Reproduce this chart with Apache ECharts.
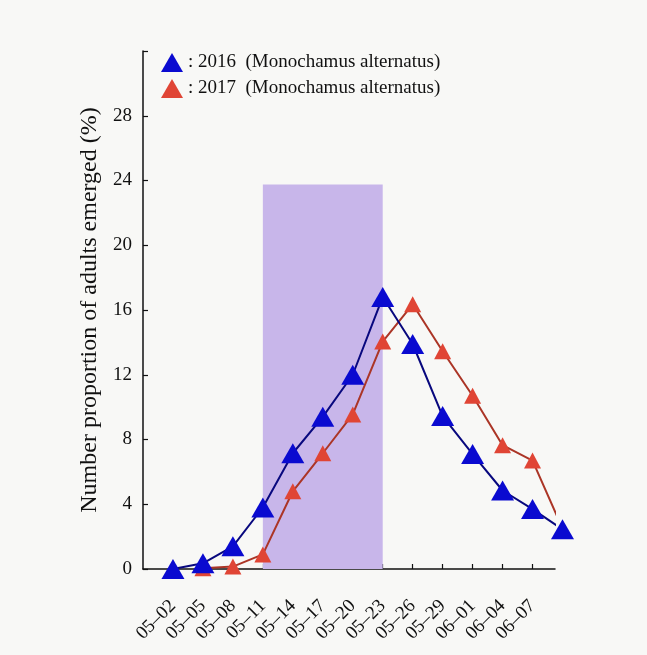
<!DOCTYPE html>
<html>
<head>
<meta charset="utf-8">
<script src="https://cdn.jsdelivr.net/npm/echarts@6/dist/echarts.min.js"></script>
<style>
html,body{margin:0;padding:0;background:#f8f8f6;}
#c{width:647px;height:655px;}
</style>
</head>
<body>
<div id="c"></div>
<script>
// Dates (3-day intervals); the last one has no printed label
const categories = ['05–02','05–05','05–08','05–11','05–14','05–17','05–20','05–23','05–26','05–29','06–01','06–04','06–07','06–10'];
const labelCount = 13;
// Number proportion of adults emerged (%)
const values2016 = [0, 0.35, 1.4, 3.8, 7.15, 9.4, 12.0, 16.8, 13.9, 9.45, 7.1, 4.85, 3.7, 2.45];
const values2017 = [null, 0.05, 0.15, 0.9, 4.8, 7.15, 9.55, 14.05, 16.35, 13.45, 10.7, 7.65, 6.7, 2.5];
const yTicks = [0, 4, 8, 12, 16, 20, 24, 28, 32];
// Shaded period: 05-11 to 05-23, up to ~23.75 %
const shadeFrom = 3, shadeTo = 7, shadeTop = 23.75;
const seriesNames = ['2016', '2017'];

const toPairs = arr => arr.map((v, i) => [i, v]).filter(p => p[1] !== null);
const labelIdx = categories.slice(0, labelCount).map((c, i) => i);

const chart = echarts.init(document.getElementById('c'));
const serif = '"Liberation Serif", "DejaVu Serif", serif';
chart.setOption({
  backgroundColor: '#f8f8f6',
  animation: false,
  grid: { left: 143, right: 92, top: 51, bottom: 86, containLabel: false },
  legend: {
    orient: 'vertical',
    left: 156,
    top: 48,
    itemWidth: 22,
    itemHeight: 19,
    itemGap: 7,
    icon: 'triangle',
    textStyle: { fontFamily: serif, fontSize: 19, color: '#111' },
    formatter: n => ': ' + n + '  (Monochamus alternatus)',
    data: seriesNames
  },
  xAxis: {
    type: 'value',
    min: -1,
    max: 12.75,
    interval: 1,
    splitLine: { show: false },
    axisLine: { onZero: false, lineStyle: { color: '#111', width: 1.5 } },
    axisTick: { inside: true, length: 5, customValues: labelIdx, lineStyle: { color: '#111', width: 1.2 } },
    axisLabel: {
      customValues: labelIdx,
      rotate: 45,
      margin: 34,
      fontFamily: serif,
      fontSize: 19,
      color: '#111',
      formatter: v => categories[Math.round(v)] || ''
    }
  },
  yAxis: {
    type: 'value',
    min: 0,
    max: 32,
    interval: 4,
    splitLine: { show: false },
    axisLine: { show: true, onZero: false, lineStyle: { color: '#111', width: 1.5 } },
    axisTick: { show: true, inside: true, length: 5, lineStyle: { color: '#111', width: 1.2 } },
    axisLabel: {
      margin: 11,
      fontFamily: serif,
      fontSize: 19,
      color: '#111',
      formatter: v => (v === 32 ? '' : String(v))
    },
    name: 'Number proportion of adults emerged (%)',
    nameLocation: 'middle',
    nameGap: 33,
    nameTextStyle: { fontFamily: serif, fontSize: 24, color: '#111' }
  },
  series: [
    {
      name: seriesNames[0],
      type: 'line',
      clip: false,
      z: 3,
      data: toPairs(values2016),
      symbol: 'triangle',
      symbolSize: [23, 20],
      itemStyle: { color: '#0a0ad0' },
      lineStyle: { color: '#08087e', width: 2 },
      markArea: {
        silent: true,
        itemStyle: { color: '#c8b6ea', opacity: 1 },
        data: [[{ coord: [shadeFrom, 0] }, { coord: [shadeTo, shadeTop] }]]
      }
    },
    {
      name: seriesNames[1],
      type: 'line',
      clip: false,
      z: 2,
      data: toPairs(values2017),
      symbol: 'triangle',
      symbolSize: [17, 16],
      itemStyle: { color: '#e04535' },
      lineStyle: { color: '#ab3526', width: 2 }
    }
  ]
});
</script>
</body>
</html>
